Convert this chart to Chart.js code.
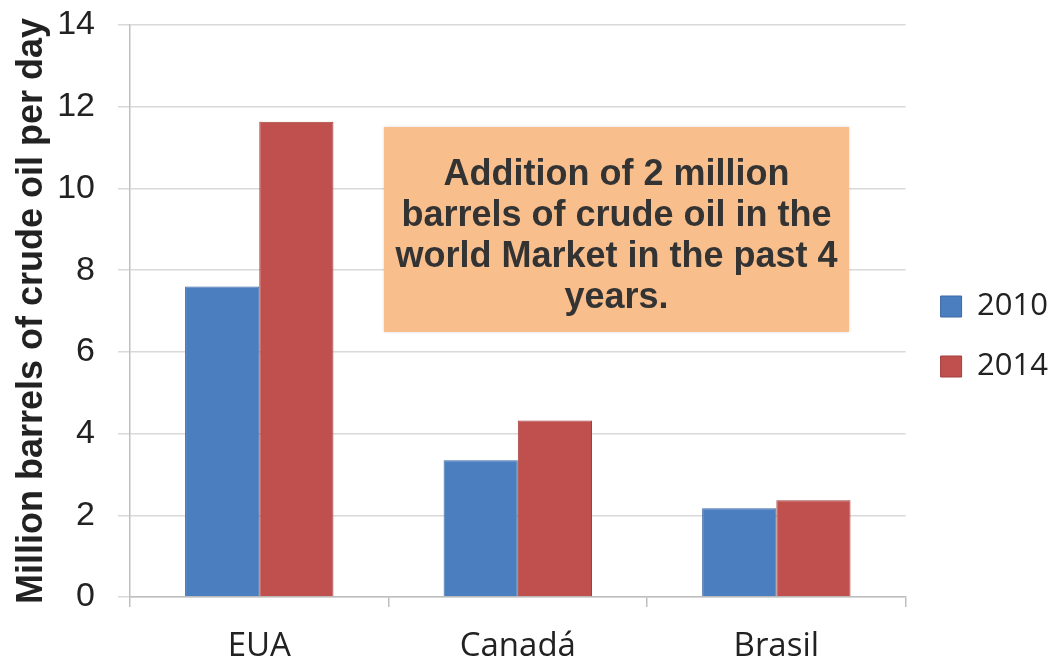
<!DOCTYPE html>
<html>
<head>
<meta charset="utf-8">
<script src="https://cdn.jsdelivr.net/npm/chart.js@4"></script>
<style>
  html, body { margin: 0; padding: 0; background: #fff; }
  #wrap { width: 1064px; height: 664px; }
</style>
</head>
<body>
<div id="wrap"><canvas id="grafico"></canvas></div>
<script>
const paises = ['EUA', 'Canadá', 'Brasil'];
const anos = ['2010', '2014'];
const producao2010 = [7.6, 3.35, 2.17];
const producao2014 = [11.63, 4.32, 2.37];
const marcasY = [0, 2, 4, 6, 8, 10, 12, 14];
const notaLinhas = ['Addition of 2 million', 'barrels of crude oil in the', 'world Market in the past 4', 'years.'];

Chart.defaults.color = '#222';

// caixa laranja com a nota por cima das barras
const caixaNota = {
    id: 'caixaNota',
    afterDatasetsDraw(chart) {
        const ctx = chart.ctx;
        const area = chart.chartArea;
        const x0 = area.left + 254, y0 = area.top + 102;
        const w = 465, h = 205;
        ctx.save();
        ctx.shadowColor = 'rgba(0,0,0,0.15)';
        ctx.shadowBlur = 3;
        ctx.fillStyle = '#F8BE8C';
        ctx.fillRect(x0, y0, w, h);
        ctx.shadowColor = 'transparent';
        ctx.fillStyle = '#333';
        ctx.font = 'bold 36px "Liberation Sans", Arial, sans-serif';
        ctx.textAlign = 'center';
        ctx.textBaseline = 'alphabetic';
        notaLinhas.forEach((linha, i) => {
            ctx.fillText(linha, x0 + w / 2, y0 + 58 + i * 41);
        });
        ctx.restore();
    }
};

// empurra a legenda um pouco para a direita e para cima
const ajusteLegenda = {
    id: 'ajusteLegenda',
    afterLayout(chart) {
        const lg = chart.legend;
        if (!lg) return;
        lg.left += 6; lg.right += 6;
        lg.top -= 8; lg.bottom -= 8;
    }
};

let grafico = new Chart(document.getElementById('grafico').getContext('2d'), {
    type: 'bar',
    data: {
        labels: paises,
        datasets: [{
            label: anos[0],
            data: producao2010,
            backgroundColor: '#4A7EBF',
            borderColor: '#3C69A3',
            borderWidth: 1
        }, {
            label: anos[1],
            data: producao2014,
            backgroundColor: '#C0504D',
            borderColor: '#A03F3C',
            borderWidth: 1
        }]
    },
    options: {
        responsive: true,
        maintainAspectRatio: false,
        animation: false,
        layout: {
            padding: { left: 0, right: 12, top: 25, bottom: 0 }
        },
        datasets: {
            bar: { categoryPercentage: 0.574, barPercentage: 1 }
        },
        scales: {
            x: {
                grid: {
                    drawOnChartArea: false,
                    drawTicks: true,
                    tickLength: 10,
                    color: '#bfbfbf',
                    lineWidth: 1.5
                },
                border: { color: '#bfbfbf', width: 1.5 },
                ticks: {
                    font: { family: '"Open Sans", sans-serif', size: 33 },
                    color: '#222',
                    padding: 20
                },
                afterFit: s => { s.height = 67; s.paddingLeft = 0; s.paddingRight = 0; }
            },
            y: {
                min: 0,
                max: 14,
                afterBuildTicks: s => { s.ticks = marcasY.map(v => ({ value: v })); },
                grid: {
                    color: '#d9d9d9',
                    lineWidth: 1.5,
                    tickLength: 12
                },
                border: { color: '#bfbfbf', width: 1.5 },
                ticks: {
                    font: { family: '"Liberation Sans", Arial, sans-serif', size: 34 },
                    color: '#222',
                    padding: 23
                },
                title: {
                    display: true,
                    text: 'Million barrels of crude oil per day',
                    font: { family: '"Liberation Sans", Arial, sans-serif', size: 36, weight: 'bold' },
                    color: '#222',
                    padding: { top: 10, bottom: 0 }
                },
                afterFit: s => { s.width = 130; s.paddingTop = 0; s.paddingBottom = 0; }
            }
        },
        plugins: {
            legend: {
                display: true,
                position: 'right',
                labels: {
                    font: { family: '"Open Sans", sans-serif', size: 31 },
                    color: '#222',
                    boxWidth: 21,
                    boxHeight: 21,
                    padding: 29
                }
            },
            tooltip: { enabled: false }
        }
    },
    plugins: [caixaNota, ajusteLegenda]
});
</script>
</body>
</html>
